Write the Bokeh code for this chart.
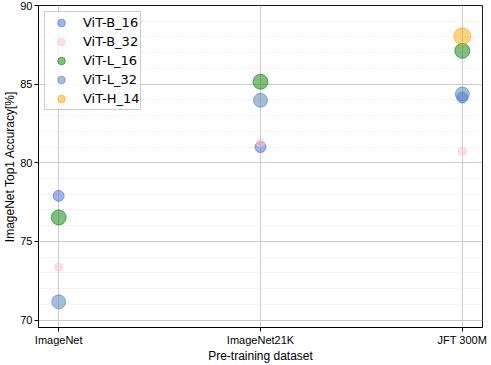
from bokeh.plotting import figure
from bokeh.models import Range1d, FixedTicker, SingleIntervalTicker, Legend, LegendItem
from bokeh.embed import file_html
from bokeh.resources import INLINE

datasets = ["ImageNet", "ImageNet21K", "JFT 300M"]
models = ["ViT-B_16", "ViT-B_32", "ViT-L_16", "ViT-L_32", "ViT-H_14"]
acc = {
    "ViT-B_16": [77.9, 81.0, 84.15],
    "ViT-B_32": [73.38, 81.28, 80.73],
    "ViT-L_16": [76.53, 85.15, 87.12],
    "ViT-L_32": [71.16, 83.97, 84.37],
    "ViT-H_14": [None, None, 88.04],
}
colors = {"ViT-B_16": "royalblue", "ViT-B_32": "pink", "ViT-L_16": "green",
          "ViT-L_32": "steelblue", "ViT-H_14": "orange"}
sizes = {"ViT-B_16": 11, "ViT-B_32": 8, "ViT-L_16": 15, "ViT-L_32": 14, "ViT-H_14": 17}

p = figure(width=491, height=365, output_backend="svg", toolbar_location=None,
           x_range=Range1d(-0.1, 2.1), y_range=Range1d(69.53, 90.0),
           min_border_left=36, min_border_right=9, min_border_top=5, min_border_bottom=34)
p.outline_line_color = "black"
p.outline_line_width = 1
p.outline_line_alpha = 0.9

p.xaxis.ticker = FixedTicker(ticks=[0, 1, 2])
p.xaxis.major_label_overrides = {i: d for i, d in enumerate(datasets)}
p.yaxis.ticker = SingleIntervalTicker(interval=5, num_minor_ticks=5)
p.ygrid.ticker = SingleIntervalTicker(interval=5, num_minor_ticks=5)
p.xgrid.ticker = FixedTicker(ticks=[0, 1, 2])

for ax in (p.xaxis[0], p.yaxis[0]):
    ax.axis_line_color = "black"
    ax.major_tick_line_color = "black"
    ax.major_tick_out = 4
    ax.major_tick_in = 0
    ax.minor_tick_line_color = None
    ax.major_label_text_font = "Liberation Sans"
    ax.major_label_text_font_size = "11px"
    ax.major_label_text_color = "black"
    ax.axis_label_text_font = "Liberation Sans"
    ax.axis_label_text_font_size = "12px"
    ax.axis_label_text_font_style = "normal"
    ax.axis_label_text_color = "black"
    ax.major_label_standoff = 2
    ax.axis_label_standoff = 0
p.xaxis.axis_label = "Pre-training dataset"
p.yaxis.axis_label = "ImageNet Top1 Accuracy[%]"

p.xgrid.grid_line_color = "#cccccc"
p.ygrid.grid_line_color = "#cccccc"
p.ygrid.minor_grid_line_color = "#dddddd"
p.ygrid.minor_grid_line_dash = "1 2"

items = []
for m in models:
    xs = [i for i, v in enumerate(acc[m]) if v is not None]
    ys = [v for v in acc[m] if v is not None]
    r = p.scatter(xs, ys, size=sizes[m], fill_color=colors[m], fill_alpha=0.5,
                  line_color=colors[m], line_alpha=0.6, line_width=1)
    items.append(LegendItem(label=m, renderers=[r]))

legend = Legend(items=items, location="top_left")
legend.label_text_font = "DejaVu Sans"
legend.label_text_font_size = "13px"
legend.label_text_color = "black"
legend.glyph_height = 19
legend.glyph_width = 30
legend.label_height = 19
legend.spacing = 0
legend.label_standoff = 7
legend.padding = 1
legend.margin = 6
legend.border_line_color = "#cccccc"
legend.border_line_alpha = 1
legend.background_fill_alpha = 0.8
p.add_layout(legend, "center")

open("out.html", "w").write(file_html(p, INLINE))
